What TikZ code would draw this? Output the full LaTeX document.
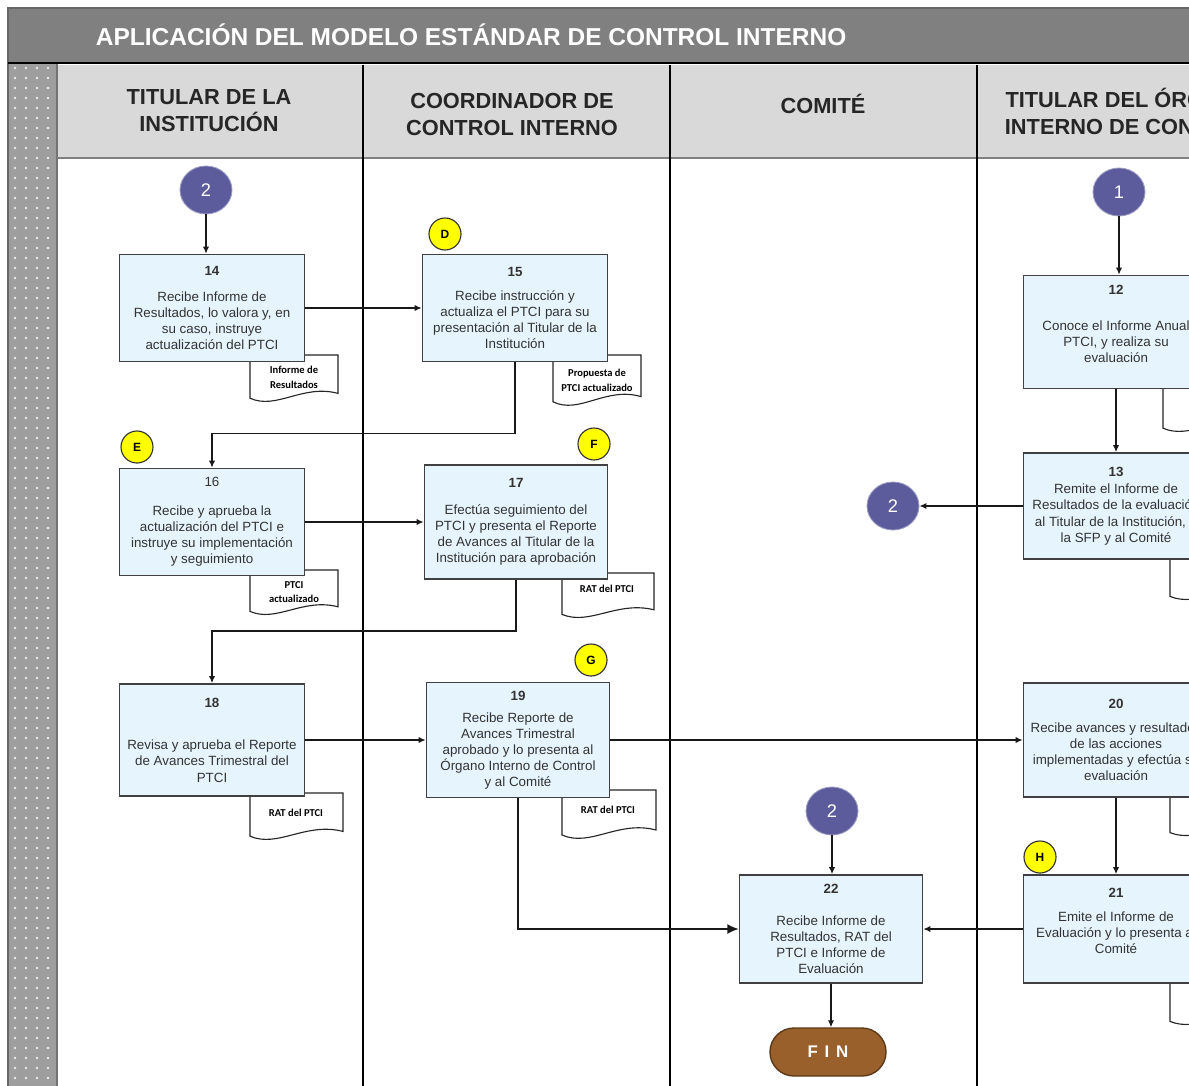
\documentclass[tikz,border=0pt]{standalone}
\usepackage{fontspec}
\setmainfont{Liberation Sans}
\newfontfamily\docfont{Carlito}
\definecolor{titlegray}{RGB}{128, 128, 128}
\definecolor{headgray}{RGB}{217, 217, 217}
\definecolor{stripgray}{RGB}{158, 158, 158}
\definecolor{boxfill}{RGB}{230, 244, 253}
\definecolor{boxline}{RGB}{64, 64, 64}
\definecolor{linkpurple}{RGB}{92, 92, 156}
\definecolor{markyellow}{RGB}{255, 255, 0}
\definecolor{finbrown}{RGB}{153, 96, 43}
\usetikzlibrary{arrows.meta, calc, shapes.geometric}
\tikzset{
    flowbox/.style={
        rectangle,
        draw=boxline,
        line width=1.2pt,
        fill=boxfill,
        minimum width=4.625cm,
        minimum height=2.675cm,
        align=center,
        text=black!80,
        inner sep=2pt,
        font=\fontsize{9.5}{11.4}\selectfont
    },
    linkcircle/.style={
        ellipse,
        fill=linkpurple,
        draw=linkpurple!60!white,
        line width=0.6pt,
        minimum width=1.3cm,
        minimum height=1.2cm,
        inner sep=0pt,
        text=white,
        font=\fontsize{13}{13}\selectfont
    },
    markcircle/.style={
        circle,
        fill=markyellow,
        draw=black!80,
        line width=0.8pt,
        minimum size=0.8cm,
        inner sep=0pt,
        font=\bfseries\fontsize{8.5}{8.5}\selectfont
    },
    endbox/.style={
        rectangle,
        rounded corners=0.6cm,
        fill=finbrown,
        draw=finbrown!60!black,
        line width=1pt,
        minimum width=2.9cm,
        minimum height=1.2cm,
        text=white,
        font=\bfseries\fontsize{12}{12}\selectfont
    },
    lanehead/.style={align=center, text=black!85, font=\bfseries\fontsize{15.5}{19.2}\selectfont},
    doclabel/.style={align=center, inner sep=0pt, font=\docfont\bfseries\fontsize{7.5}{10.5}\selectfont},
    docline/.style={draw=black!85, line width=0.8pt, fill=white},
    arrowstyle/.style={-{Latex[length=5pt,width=4.5pt]}, line width=0.9pt, draw=black!90}
}
% document symbol: x y w h (top left corner, in px)
\newcommand{\docshape}[4]{%
  \draw[docline] (#1,#2) -- ++(#3,0) -- ++(0,0.8*#4)
    .. controls +(-0.4*#3,-0.2*#4) and +(0.3*#3,0.25*#4) .. ++(-#3,0.1*#4) -- cycle;}

\begin{document}
\begin{tikzpicture}[x=0.025cm, y=-0.025cm]
      \useasboundingbox (0,0) rectangle (1189,1085);
      \clip (0,0) rectangle (1189,1085);
      \fill[white] (0,0) rectangle (1189,1085);

      % left strip
      \fill[stripgray] (9,64) rectangle (57,1090);
      \foreach \dy in {0,...,102}{
        \foreach \dx in {15,26,37,48}{
          \fill[white!80!stripgray] (\dx,68+10*\dy) circle[radius=1pt];
        }
      }
      \draw[black!55, line width=0.8pt] (57,64) -- (57,1090);

      % title bar
      \fill[titlegray] (8,8) rectangle (1200,63);
      \draw[black!60, line width=1pt] (1200,8) -- (8,8) -- (8,1090);
      \draw[black, line width=1.5pt] (8,63) -- (1200,63);
      \node[anchor=west, text=white, font=\bfseries\fontsize{17.4}{20}\selectfont] (title) at (91,35) {APLICACIÓN DEL MODELO ESTÁNDAR DE CONTROL INTERNO};

      % lane headers
      \fill[headgray] (58,65) rectangle (1200,158);
      \draw[black!50, line width=1pt] (57,158) -- (1200,158);
      \node[lanehead] (h1) at (209,111) {TITULAR DE LA\\INSTITUCIÓN};
      \node[lanehead] (h2) at (512,114) {COORDINADOR DE\\CONTROL INTERNO};
      \node[lanehead] (h3) at (823,104) {COMITÉ};
      \node[lanehead] (h4) at (1129,111) {TITULAR DEL ÓRGANO\\INTERNO DE CONTROL};
      \draw[line width=1pt] (363,65) -- (363,1090);
      \draw[line width=1.5pt] (670,65) -- (670,1090);
      \draw[line width=1pt] (977,65) -- (977,1090);

      % documents
      \docshape{250}{355}{88}{48}
      \docshape{553}{355}{88}{52}
      \docshape{250}{570}{88}{46}
      \docshape{562}{573}{92}{46}
      \docshape{250}{793}{93}{48}
      \docshape{562}{790}{94}{50}
      \docshape{1163}{385}{92}{48}
      \docshape{1170}{555}{92}{46}
      \docshape{1170}{793}{92}{44}
      \docshape{1170}{980}{92}{46}
      \node[doclabel] (d14) at (294,377) {Informe de\\Resultados};
      \node[doclabel] (d15) at (597,380) {Propuesta de\\PTCI actualizado};
      \node[doclabel] (d16) at (294,592) {PTCI\\actualizado};
      \node[doclabel] (d17) at (607,589) {RAT del PTCI};
      \node[doclabel] (d18) at (296,813) {RAT del PTCI};
      \node[doclabel] (d19) at (608,810) {RAT del PTCI};

      % activities
      \node[flowbox] (b14) at (212,308) {\textbf{14}\\[7pt]Recibe Informe de\\Resultados, lo valora y, en\\su caso, instruye\\actualización del PTCI};
      \node[flowbox] (b15) at (515,308) {\textbf{15}\\[6pt]Recibe instrucción y\\actualiza el PTCI para su\\presentación al Titular de la\\Institución};
      \node[flowbox] (b16) at (212,522) {16\\[9pt]Recibe y aprueba la\\actualización del PTCI e\\instruye su implementación\\y seguimiento};
      \node[flowbox, minimum width=4.575cm, minimum height=2.85cm] (b17) at (516,522) {\textbf{17}\\[8pt]Efectúa seguimiento del\\PTCI y presenta el Reporte\\de Avances al Titular de la\\Institución para aprobación};
      \node[flowbox, minimum height=2.8cm] (b18) at (212,740) {\textbf{18}\\[19pt]Revisa y aprueba el Reporte\\de Avances Trimestral del\\PTCI};
      \node[flowbox, minimum width=4.575cm, minimum height=2.875cm] (b19) at (518,740) {\textbf{19}\\[4pt]Recibe Reporte de\\Avances Trimestral\\aprobado y lo presenta al\\Órgano Interno de Control\\y al Comité};
      \node[flowbox, minimum width=4.575cm, minimum height=2.7cm] (b22) at (831,929) {\textbf{22}\\[11pt]Recibe Informe de\\Resultados, RAT del\\PTCI e Informe de\\Evaluación};
      \node[flowbox, minimum height=2.825cm] (b12) at (1116,332) {\textbf{12}\\[14pt]Conoce el Informe Anual\\PTCI, y realiza su\\evaluación\\[0pt]\mbox{}};
      \node[flowbox, minimum height=2.65cm] (b13) at (1116,506) {\textbf{13}\\[1pt]Remite el Informe de\\Resultados de la evaluación\\al Titular de la Institución, a\\la SFP y al Comité};
      \node[flowbox, minimum height=2.85cm] (b20) at (1116,740) {\textbf{20}\\[6pt]Recibe avances y resultados\\de las acciones\\implementadas y efectúa su\\evaluación};
      \node[flowbox, minimum height=2.7cm] (b21) at (1116,929) {\textbf{21}\\[6pt]Emite el Informe de\\Evaluación y lo presenta al\\Comité\\[0pt]\mbox{}};

      % connectors and marks
      \node[linkcircle] (c2a) at (206,190) {2};
      \node[linkcircle] (c1) at (1119,192) {1};
      \node[linkcircle] (c2b) at (893,506) {2};
      \node[linkcircle] (c2c) at (832,811) {2};
      \node[markcircle] (mD) at (445,234) {D};
      \node[markcircle] (mE) at (137,447) {E};
      \node[markcircle] (mF) at (594,444) {F};
      \node[markcircle] (mG) at (591,660) {G};
      \node[markcircle] (mH) at (1040,857) {H};
      \node[endbox] (fin) at (828,1052) {F\hspace{0.4em}I\hspace{0.4em}N};

      \draw[arrowstyle] (c2a) -- (c2a |- b14.north);
      \draw[arrowstyle] (b14) -- (b15);
      \draw[arrowstyle] (b15.south) -- ++(0,71) -| (b16.north);
      \draw[arrowstyle] (b16) -- (b17);
      \draw[arrowstyle] (b17.south) -- ++(0,51) -| (b18.north);
      \draw[arrowstyle] (b18) -- (b19);
      \draw[arrowstyle] (b19) -- (b20);
      \draw[arrowstyle, -{Latex[length=8pt,width=7pt]}] (b19.south) |- (b22.west);
      \draw[arrowstyle] (c2c) -- (c2c |- b22.north);
      \draw[arrowstyle] (b22.south) -- (b22.south |- fin.north);
      \draw[arrowstyle] (b21) -- (b22);
      \draw[arrowstyle] (c1) -- (c1 |- b12.north);
      \draw[arrowstyle] (b12) -- (b13);
      \draw[arrowstyle] (b13) -- (c2b);
      \draw[arrowstyle] (b20) -- (b21);
    \end{tikzpicture}
\end{document}
